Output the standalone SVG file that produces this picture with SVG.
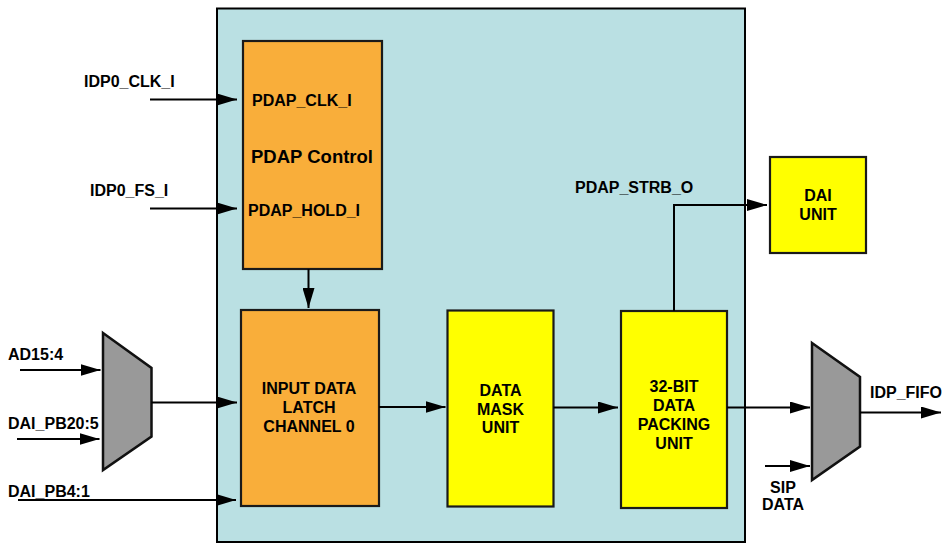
<svg xmlns="http://www.w3.org/2000/svg" width="943" height="543" viewBox="0 0 943 543">
<style>
text{font-family:"Liberation Sans",Arial,Helvetica,sans-serif;font-weight:bold;font-size:16px;fill:#000}
.c{text-anchor:middle}
.box{stroke:#1a1a1a;stroke-width:2.2}
.or{fill:#F9AE3A}
.ye{fill:#FFFF00}
.mux{fill:#999999;stroke:#111;stroke-width:2.5;stroke-linejoin:miter}
.ln{fill:none;stroke:#000;stroke-width:2;marker-end:url(#ah)}
</style>
<defs>
<marker id="ah" markerUnits="userSpaceOnUse" markerWidth="21" markerHeight="12" refX="20" refY="6" orient="auto">
<path d="M0,0 L20,6 L0,12 Z" fill="#000"/>
</marker>
</defs>
<rect id="container" x="217" y="8.5" width="528" height="533.5" fill="#BAE0E3" stroke="#000" stroke-width="2"/>
<g id="pdap-control">
<rect class="box or" x="243" y="41" width="139" height="228"/>
<text x="252" y="106">PDAP_CLK_I</text>
<text class="c" x="312" y="163" style="font-size:18.5px">PDAP Control</text>
<text x="248" y="216">PDAP_HOLD_I</text>
</g>
<g id="input-latch">
<rect class="box or" x="241" y="310" width="138" height="196"/>
<text class="c" x="309" y="394">INPUT DATA</text>
<text class="c" x="309" y="413">LATCH</text>
<text class="c" x="309" y="432">CHANNEL 0</text>
</g>
<g id="data-mask">
<rect class="box ye" x="447.5" y="310.5" width="106" height="196"/>
<text class="c" x="500.5" y="395.5">DATA</text>
<text class="c" x="500.5" y="414.5">MASK</text>
<text class="c" x="500.5" y="433">UNIT</text>
</g>
<g id="packing-unit">
<rect class="box ye" x="621" y="311" width="106" height="197"/>
<text class="c" x="674" y="392">32-BIT</text>
<text class="c" x="674" y="411">DATA</text>
<text class="c" x="674" y="430">PACKING</text>
<text class="c" x="674" y="449">UNIT</text>
</g>
<g id="dai-unit">
<rect class="box ye" x="770" y="157" width="96" height="96"/>
<text class="c" x="818" y="201">DAI</text>
<text class="c" x="818" y="219.5">UNIT</text>
</g>
<g id="mux-in">
<polygon class="mux" points="103,333 151.5,368 151.5,436.5 103,470"/>
</g>
<g id="mux-out">
<polygon class="mux" points="812,343 860,377 860,446.5 812,480"/>
</g>
<g id="labels">
<text x="84" y="87">IDP0_CLK_I</text>
<text x="90" y="196">IDP0_FS_I</text>
<text x="8" y="360">AD15:4</text>
<text x="8" y="429">DAI_PB20:5</text>
<text x="8" y="497">DAI_PB4:1</text>
<text x="575" y="193">PDAP_STRB_O</text>
<text x="870" y="398">IDP_FIFO</text>
<text class="c" x="783" y="493">SIP</text>
<text class="c" x="783" y="510">DATA</text>
</g>
<g id="connectors">
<line class="ln" x1="150" y1="99.5" x2="237" y2="99.5"/>
<line class="ln" x1="150" y1="208.5" x2="237" y2="208.5"/>
<line class="ln" x1="308.5" y1="269" x2="308.5" y2="308"/>
<line class="ln" x1="20" y1="370" x2="100.5" y2="370"/>
<line class="ln" x1="17" y1="439" x2="99.5" y2="439"/>
<line class="ln" x1="18" y1="500" x2="236" y2="500"/>
<line class="ln" x1="151.5" y1="402.5" x2="237" y2="402.5"/>
<line class="ln" x1="379" y1="407" x2="445.5" y2="407"/>
<line class="ln" x1="553.5" y1="407.5" x2="618" y2="407.5"/>
<line class="ln" x1="727" y1="407.5" x2="810" y2="407.5"/>
<line class="ln" x1="765" y1="466" x2="810" y2="466"/>
<line class="ln" x1="860" y1="412.5" x2="941" y2="412.5"/>
<polyline class="ln" points="674,311 674,205 767,205"/>
</g>
</svg>
